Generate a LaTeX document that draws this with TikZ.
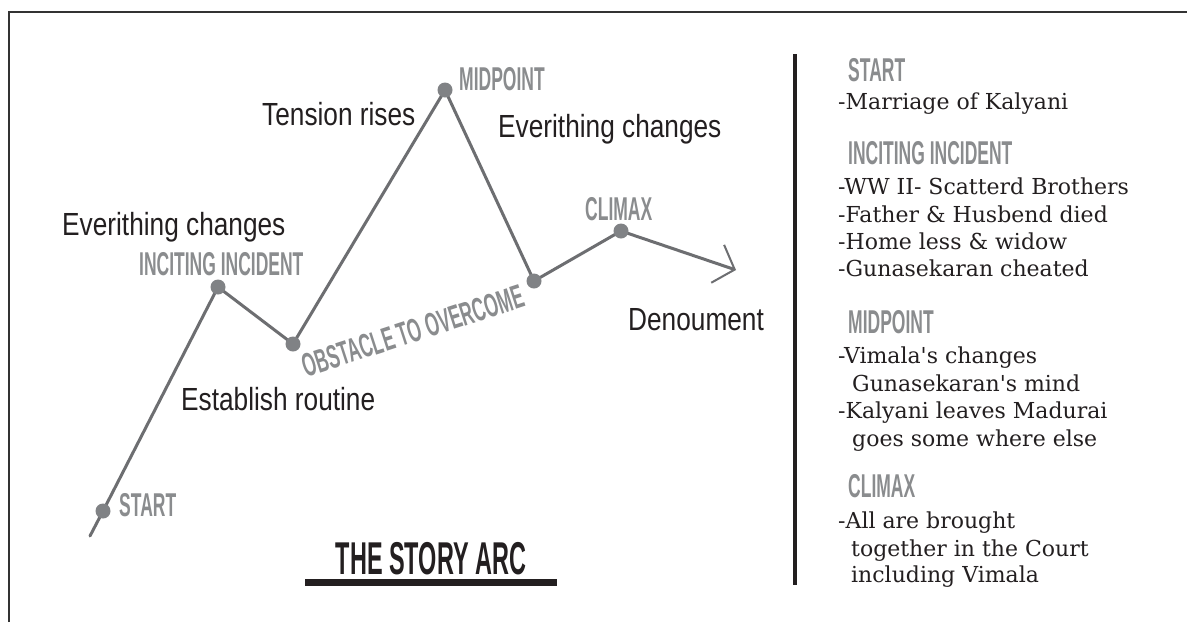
\documentclass[tikz,border=0pt]{standalone}
\usepackage{fontspec}
\usetikzlibrary{arrows.meta,backgrounds}
\newfontfamily\hsans[FakeStretch=0.82]{Liberation Sans}
\newfontfamily\condf[FakeStretch=0.53]{Liberation Sans}
\newfontfamily\titlef[FakeStretch=0.51]{Liberation Sans}
\newfontfamily\serifr{DejaVu Serif}
\definecolor{ink}{HTML}{231F20}
\definecolor{arcgray}{HTML}{6D6E71}
\definecolor{dotgray}{HTML}{808285}
\definecolor{labgray}{HTML}{8A8C8E}
\begin{document}
\begin{tikzpicture}[x=1pt,y=-1pt,
  dotn/.style={circle,fill=dotgray,inner sep=0pt,minimum size=15pt},
  blab/.style={anchor=base west,inner sep=0pt,text=ink,font=\hsans\fontsize{32}{36}\selectfont},
  glab/.style={anchor=base west,inner sep=0pt,text=labgray,font=\condf\bfseries\fontsize{33}{36}\selectfont},
  stxt/.style={anchor=base west,inner sep=0pt,text=ink,font=\serifr\fontsize{22}{27}\selectfont},
  arcline/.style={draw=arcgray,line width=3pt,line join=round,line cap=round}]
\useasboundingbox (0,0) rectangle (1187,622);
% frame
\draw[line width=2pt,draw=black!80] (9,622) -- (9,12) -- (1187,12);
% arc points
\coordinate (s0) at (90,536);
\node[dotn] (start) at (103,511) {};
\node[dotn] (inc) at (218,287) {};
\node[dotn] (obs) at (293,344) {};
\node[dotn] (mid) at (445,90) {};
\node[dotn] (low) at (534,281) {};
\node[dotn] (clim) at (621,231) {};
\coordinate (end) at (736,270);
\begin{scope}[on background layer]
\fill[white] (0,0) rectangle (1187,622);
\draw[arcline,-{Straight Barb[length=18pt,width=40pt,line width=2pt]}] (s0) -- (start.center) -- (inc.center) -- (obs.center) -- (mid.center) -- (low.center) -- (clim.center) -- (end);
\end{scope}
% gray labels
\node[glab] (lstart) at (119,516) {START};
\node[glab] (linc) at (139,275) {INCITING INCIDENT};
\node[glab] (lmid) at (459,90) {MIDPOINT};
\node[glab] (lclim) at (585,220) {CLIMAX};
\node[glab,anchor=center,rotate=18] (lobs) at (413,331) {OBSTACLE TO OVERCOME};
% black labels
\node[blab] (tens) at (262,125) {Tension rises};
\node[blab] (ev1) at (62,235) {Everithing changes};
\node[blab] (ev2) at (498,137) {Everithing changes};
\node[blab] (est) at (181,410) {Establish routine};
\node[blab] (den) at (628,330) {Denoument};
% title
\node[anchor=base,inner sep=0pt,text=ink,font=\titlef\bfseries\fontsize{46}{50}\selectfont] (title) at (431,574) {THE STORY ARC};
\draw[ink,line width=7pt] (305,582.5) -- (557,582.5);
% divider
\draw[ink,line width=4pt] (795,54) -- (795,585);
% right panel
\node[glab] (hstart) at (848,81) {START};
\node[stxt] (t1) at (838,109) {-Marriage of Kalyani};
\node[glab] (hinc) at (848,164) {INCITING INCIDENT};
\node[stxt] (t2) at (838,194) {-WW II- Scatterd Brothers};
\node[stxt] (t3) at (838,222) {-Father \& Husbend died};
\node[stxt] (t4) at (838,249) {-Home less \& widow};
\node[stxt] (t5) at (838,276) {-Gunasekaran cheated};
\node[glab] (hmid) at (848,333) {MIDPOINT};
\node[stxt] (t6) at (838,363) {-Vimala's changes};
\node[stxt] (t7) at (852,391) {Gunasekaran's mind};
\node[stxt] (t8) at (838,418) {-Kalyani leaves Madurai};
\node[stxt] (t9) at (852,446) {goes some where else};
\node[glab] (hclim) at (848,497) {CLIMAX};
\node[stxt] (t10) at (838,528) {-All are brought};
\node[stxt] (t11) at (851,556) {together in the Court};
\node[stxt] (t12) at (851,582) {including Vimala};
\end{tikzpicture}
\end{document}
